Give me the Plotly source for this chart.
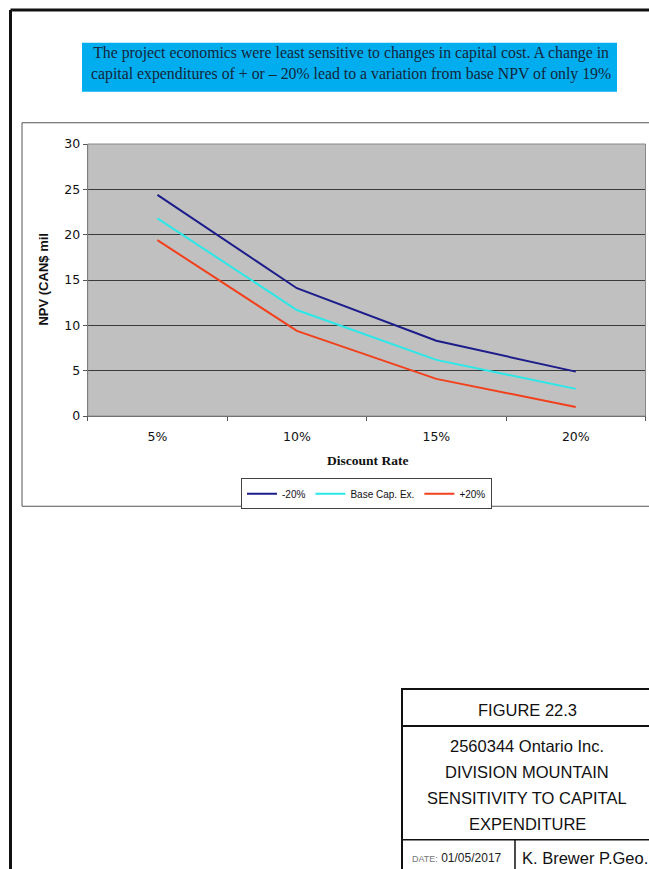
import plotly.graph_objects as go

W, H = 649, 869

categories = ["5%", "10%", "15%", "20%"]
minus20 = [24.4, 14.1, 8.3, 4.9]
base_capex = [21.8, 11.7, 6.2, 3.0]
plus20 = [19.4, 9.4, 4.1, 1.0]
series_names = ["-20%", "Base Cap. Ex.", "+20%"]
series_colors = ["#1c1c8a", "#2ae8e8", "#f2401c"]
y_ticks = [0, 5, 10, 15, 20, 25, 30]

# the capture compresses the page slightly in the vertical direction; compensate
Y_OFF, Y_SCALE = 6.1, 0.984


def px(x):
    return x / W


def py(y):
    return 1 - ((y - Y_OFF) / Y_SCALE) / H


fig = go.Figure()
for name, vals, col in zip(series_names, [minus20, base_capex, plus20], series_colors):
    fig.add_trace(go.Scatter(x=categories, y=vals, mode="lines", name=name,
                             line=dict(color=col, width=2)))

shapes = []
# page frame
shapes.append(dict(type="line", xref="paper", yref="paper", x0=px(10.5), x1=px(700), y0=py(8), y1=py(8),
                   line=dict(color="#111", width=3)))
shapes.append(dict(type="line", xref="paper", yref="paper", x0=px(10.5), x1=px(10.5), y0=py(8), y1=py(900),
                   line=dict(color="#111", width=3)))
# blue box
shapes.append(dict(type="rect", xref="paper", yref="paper", x0=px(82), x1=px(617), y0=py(41), y1=py(90),
                   fillcolor="#00aeef", line=dict(width=0), layer="below"))
# chart border
shapes.append(dict(type="rect", xref="paper", yref="paper", x0=px(22), x1=px(700), y0=py(121), y1=py(505),
                   line=dict(color="#555", width=1), layer="below"))
# plot area border
shapes.append(dict(type="rect", xref="paper", yref="paper", x0=px(87.7), x1=px(645.5), y0=py(414.7), y1=py(142.3),
                   line=dict(color="#888", width=1)))
# title block
shapes.append(dict(type="rect", xref="paper", yref="paper", x0=px(402), x1=px(700), y0=py(688), y1=py(900),
                   line=dict(color="#111", width=2)))
shapes.append(dict(type="line", xref="paper", yref="paper", x0=px(402), x1=px(700), y0=py(725), y1=py(725),
                   line=dict(color="#111", width=2)))
shapes.append(dict(type="line", xref="paper", yref="paper", x0=px(402), x1=px(700), y0=py(839), y1=py(839),
                   line=dict(color="#111", width=1.5)))
shapes.append(dict(type="line", xref="paper", yref="paper", x0=px(515), x1=px(515), y0=py(839), y1=py(900),
                   line=dict(color="#111", width=1.5)))

ann = []
ann.append(dict(xref="paper", yref="paper", x=px(351), y=py(62), xanchor="center", yanchor="middle",
                text="The project economics were least sensitive to changes in capital cost. A change in<br>"
                     "capital expenditures of + or \u2013 20% lead to a variation from base NPV of only 19%",
                showarrow=False, align="center",
                font=dict(family="Liberation Serif", size=15.8, color="#13263c")))
tb_font = dict(family="Liberation Sans, Arial", size=16.5, color="#111")
for text, yy in [("FIGURE 22.3", 709), ("2560344 Ontario Inc.", 745), ("DIVISION MOUNTAIN", 771),
                 ("SENSITIVITY TO CAPITAL", 797), ("EXPENDITURE", 823)]:
    ann.append(dict(xref="paper", yref="paper", x=px(527), y=py(yy), xanchor="center", yanchor="middle",
                    text=text, showarrow=False, font=tb_font))
ann.append(dict(xref="paper", yref="paper", x=px(410), y=py(857), xanchor="left", yanchor="middle",
                text="<span style='font-size:9px;color:#777'>DATE:</span> 01/05/2017", showarrow=False,
                font=dict(family="Liberation Sans, Arial", size=12, color="#222")))
ann.append(dict(xref="paper", yref="paper", x=px(520), y=py(857), xanchor="left", yanchor="middle",
                text="K. Brewer P.Geo.", showarrow=False,
                font=dict(family="Liberation Sans, Arial", size=16.5, color="#111")))
ann.append(dict(xref="paper", yref="paper", x=px(367), y=py(459), xanchor="center", yanchor="middle",
                text="<b>Discount Rate</b>", showarrow=False,
                font=dict(family="Liberation Serif", size=13.5, color="#111")))
ann.append(dict(xref="paper", yref="paper", x=px(44), y=py(278), xanchor="center", yanchor="middle",
                text="<b>NPV (CAN$ mil</b>", textangle=-90, showarrow=False,
                font=dict(family="Liberation Sans, Arial", size=13, color="#111")))

tick_font = dict(family="DejaVu Sans", size=12.5, color="#111")
fig.update_layout(
    width=W, height=H, margin=dict(l=0, r=0, t=0, b=0),
    paper_bgcolor="white", plot_bgcolor="#c0c0c0",
    shapes=shapes, annotations=ann,
    xaxis=dict(domain=[px(87.7), px(645.5)], type="category", range=[-0.5, 3.5],
               tickson="boundaries", ticks="outside", ticklen=4, tickcolor="#555",
               showline=True, linecolor="#555", linewidth=1, showgrid=False, zeroline=False,
               ticklabelstandoff=9, tickfont=tick_font),
    yaxis=dict(domain=[py(414.7), py(142.3)], range=[0, 30], tickvals=y_ticks,
               ticks="outside", ticklen=4, tickcolor="#555",
               showline=True, linecolor="#555", linewidth=1,
               showgrid=True, gridcolor="#3a3a3a", gridwidth=1, zeroline=False,
               tickfont=tick_font),
    showlegend=True,
    legend=dict(orientation="h", x=px(366.5), y=py(477), xanchor="center", yanchor="top",
                bordercolor="#444", borderwidth=1, bgcolor="white",
                font=dict(family="Liberation Sans, Arial", size=10, color="#111"),
                itemwidth=30, tracegroupgap=0),
)

fig.write_html("out.html")
